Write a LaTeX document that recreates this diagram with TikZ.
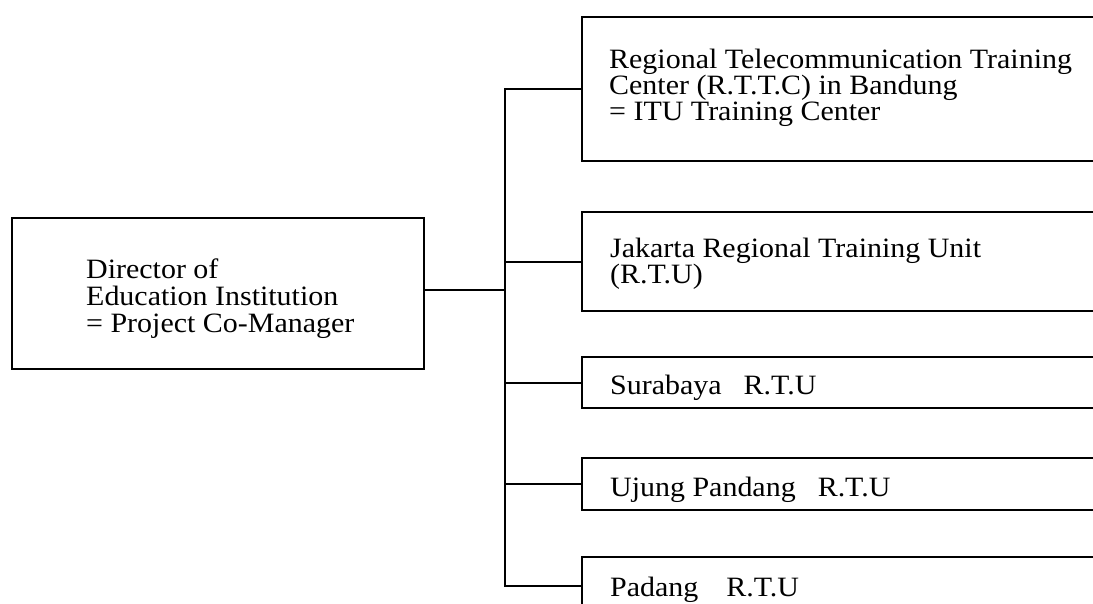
\documentclass[tikz,border=0pt]{standalone}
\usepackage{fontspec}
\setmainfont[FakeStretch=1.07]{Liberation Serif}
\newcommand\mylblfont{\fontsize{28}{26}\selectfont\setlength{\lineskiplimit}{-40pt}}
\newcommand\mydirfont{\fontsize{28}{27}\selectfont\setlength{\lineskiplimit}{-40pt}}
\begin{document}
\begin{tikzpicture}[x=1pt,y=-1pt,
  box/.style={draw, line width=2.6pt, rectangle, inner sep=0pt, outer sep=0pt, anchor=north west},
  lbl/.style={anchor=west, align=left, inner sep=0pt, font=\mylblfont},
  link/.style={line width=2pt}]
\clip (0,0) rectangle (1093,603);
\fill[white] (0,0) rectangle (1093,603);
% boxes
\node[box, minimum width=412pt, minimum height=151pt] (dir) at (12,218) {};
\node[box, minimum width=530pt, minimum height=144pt] (rttc) at (582,17) {};
\node[box, minimum width=530pt, minimum height=99pt] (jak) at (582,212) {};
\node[box, minimum width=530pt, minimum height=51pt] (sur) at (582,357) {};
\node[box, minimum width=530pt, minimum height=52pt] (uju) at (582,458) {};
\node[box, minimum width=530pt, minimum height=58pt] (pad) at (582,557) {};
% texts
\node[lbl, font=\mydirfont] (tdir) at (86,299) {Director of\\Education Institution\\= Project Co-Manager};
\node[lbl] (trttc) at (609,88) {Regional Telecommunication Training\\Center (R.T.T.C) in Bandung\\= ITU Training Center};
\node[lbl] (tjak) at (610,264) {Jakarta Regional Training Unit\\(R.T.U)};
\node[lbl] (tsur) at (610,388) {Surabaya\hspace{22pt}R.T.U};
\node[lbl] (tuju) at (610,490) {Ujung Pandang\hspace{22pt}R.T.U};
\node[lbl] (tpad) at (610,590) {Padang\hspace{28pt}R.T.U};
% connectors
\coordinate (trunk) at (505,0);
\draw[link] (trunk |- 0,290) coordinate (dj) -- (dir.east |- dj);
\draw[link] (rttc.west) -| (trunk |- pad.west) -- (pad.west);
\draw[link] (trunk |- jak.west) -- (jak.west);
\draw[link] (trunk |- sur.west) -- (sur.west);
\draw[link] (trunk |- uju.west) -- (uju.west);
\end{tikzpicture}
\end{document}
